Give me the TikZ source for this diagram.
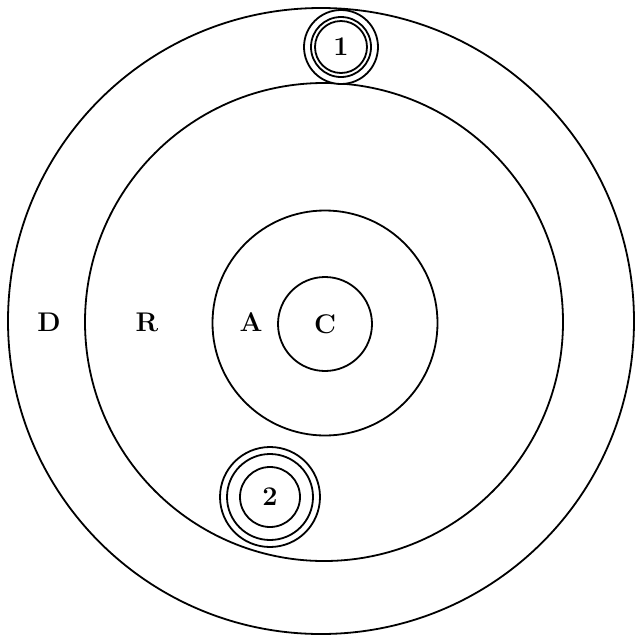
\documentclass[tikz,border=0pt]{standalone}
\usepackage{amsmath}
\usepackage{fontspec}
\usepackage{tikz}
\usetikzlibrary{shapes,positioning}

\tikzset{
    ring/.style={draw, circle, line width=1.8pt, inner sep=0pt},
    zone/.style={font=\fontsize{27}{30}\selectfont\bfseries},
    site/.style={font=\fontsize{27}{30}\selectfont\bfseries}
}

\begin{document}
\begin{tikzpicture}[x=1pt, y=-1pt]
    \useasboundingbox (0,0) rectangle (635,638);

    % zones, from the outside in
    \node[ring, minimum size=626pt] (dzone) at (321,321) {};
    \node[ring, minimum size=478pt] (rzone) at (324,322) {};
    \node[ring, minimum size=225pt] (azone) at (325,323) {};
    \node[ring, zone, minimum size=94pt] (czone) at (325,324) {C};

    \node[zone] (dlabel) at (49,322) {D};
    \node[zone, right of=dlabel, node distance=98pt] (rlabel) {R};
    \node[zone] (alabel) at (251,322) {A};

    % site 1, on the rim of R
    \node[ring, fill=white, minimum size=74pt] (site1) at (341,47) {};
    \node[ring, minimum size=60pt] (site1b) at (site1) {};
    \node[ring, site, minimum size=52pt] (site1c) at (site1) {1};

    % site 2
    \node[ring, fill=white, minimum size=100pt] (site2) at (270,497) {};
    \node[ring, minimum size=86pt] (site2b) at (site2) {};
    \node[ring, site, minimum size=60pt] (site2c) at (site2) {2};
\end{tikzpicture}
\end{document}
